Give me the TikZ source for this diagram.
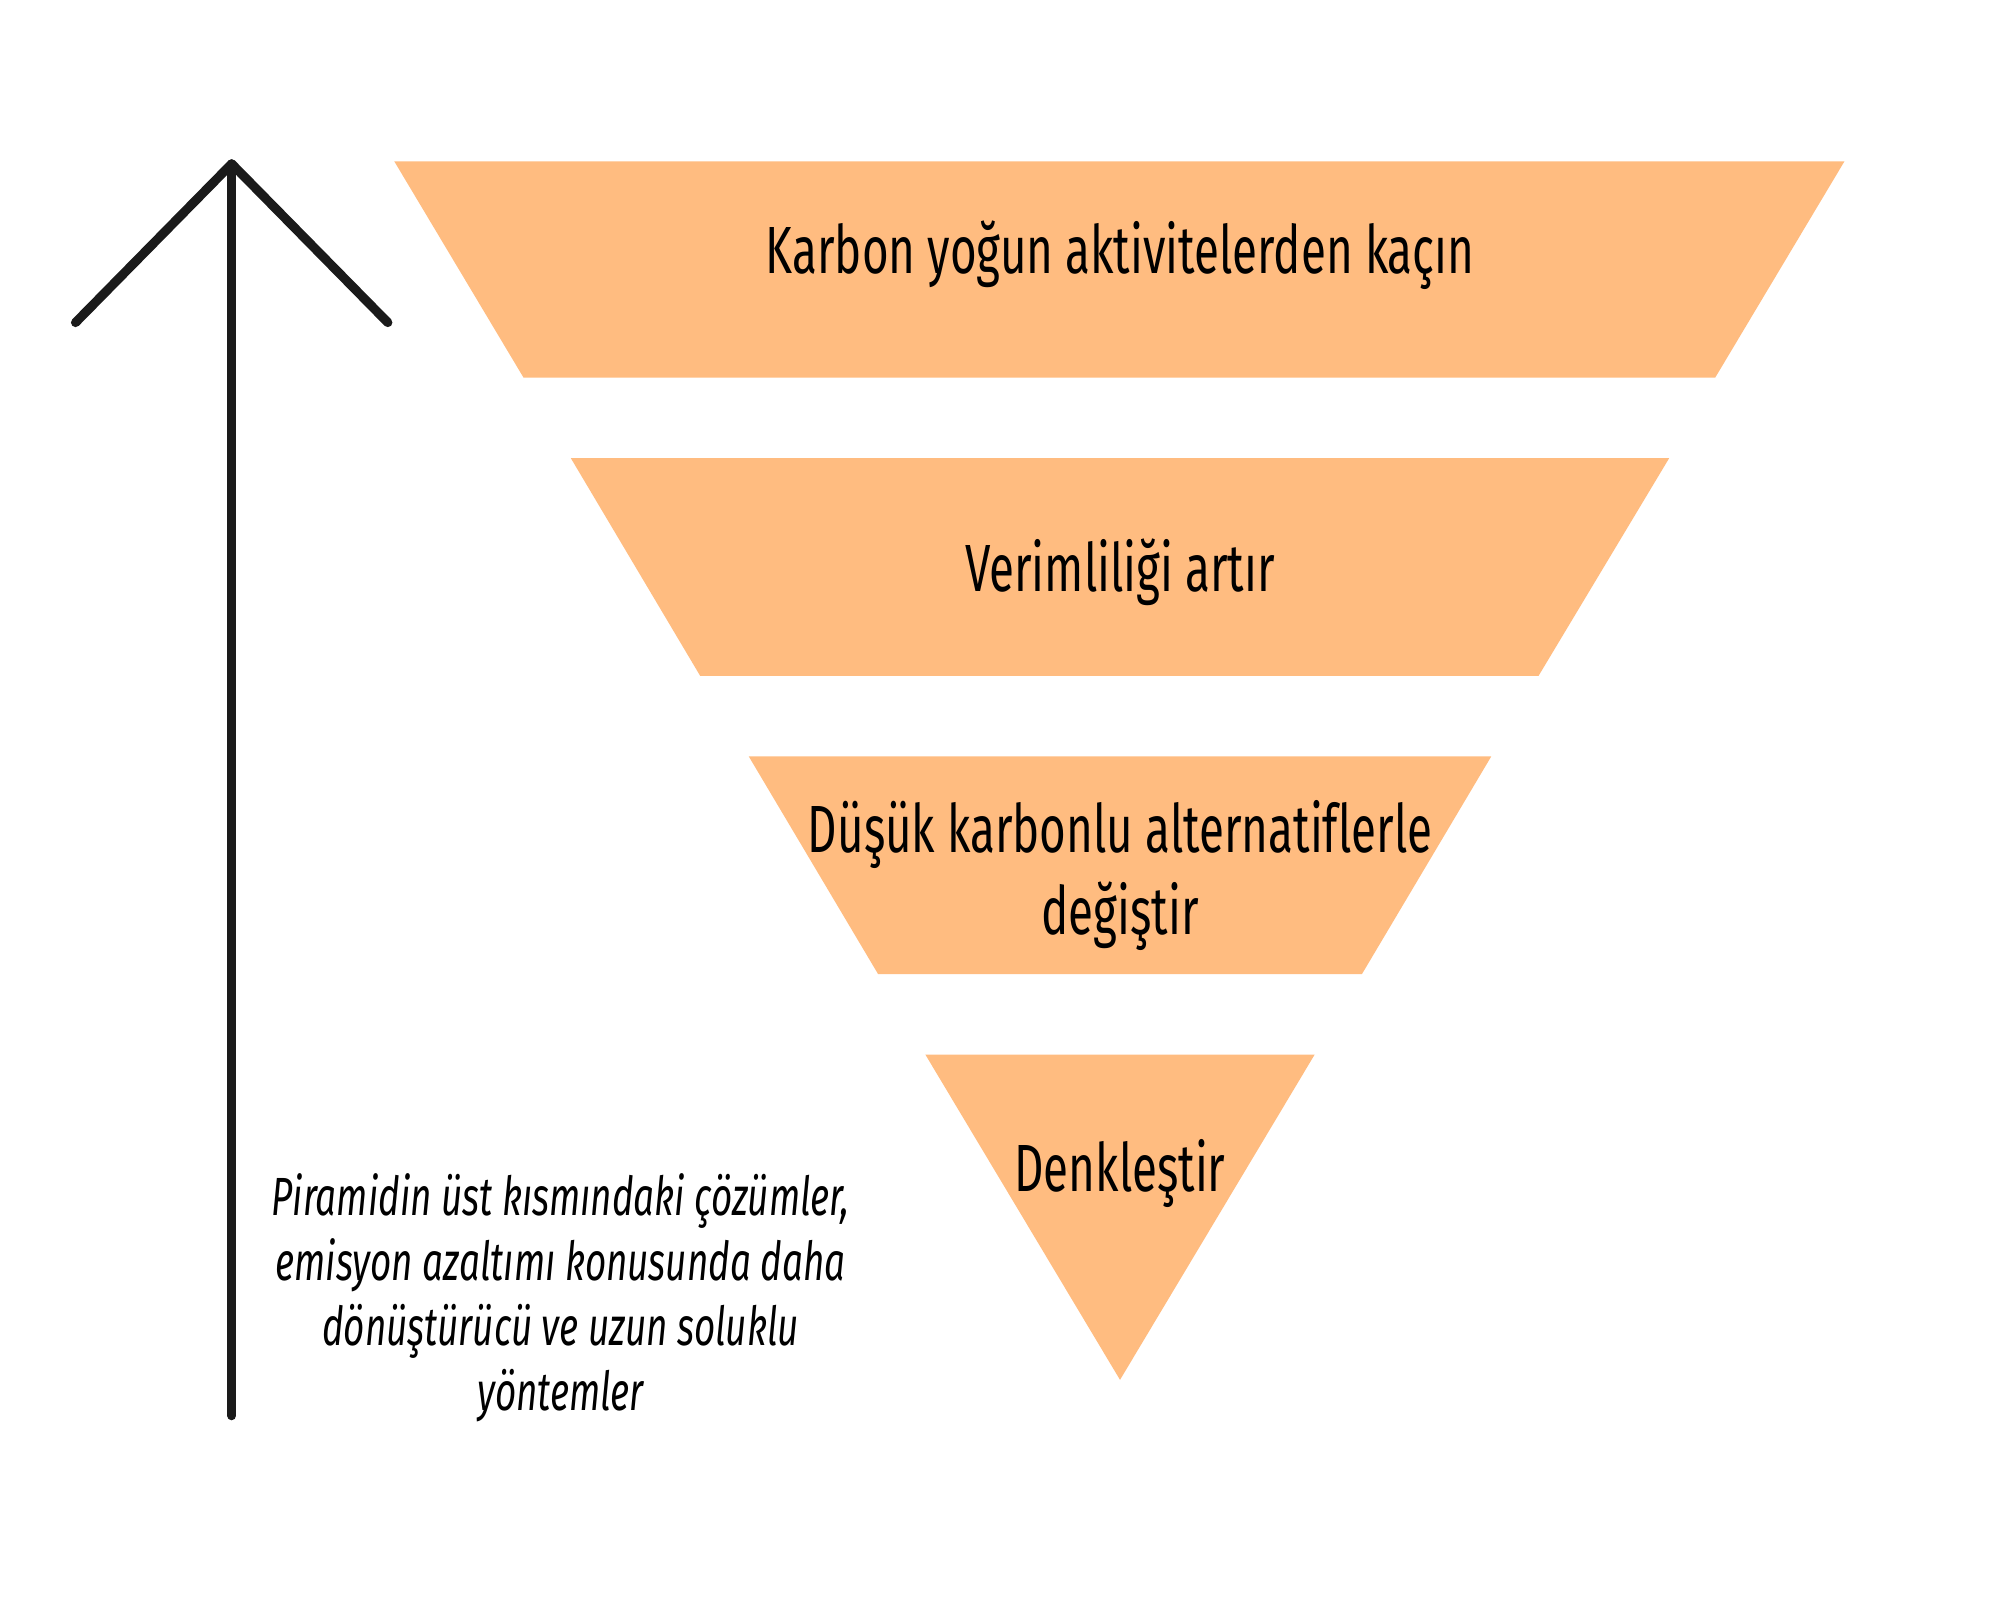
\documentclass[tikz,border=0pt]{standalone}
\usepackage{fontspec}
\setmainfont{Fira Sans}[FakeStretch=0.685, Ligatures=NoCommon]
\definecolor{peach}{HTML}{FFBC80}
\definecolor{ink}{HTML}{1A1A1A}
\tikzset{
  band/.style={fill=peach, draw=none},
  lbl/.style={font=\fontsize{19}{23.5}\selectfont, text=black, align=center, inner sep=0pt},
  capt/.style={font=\fontsize{15.3}{18.5}\selectfont\itshape, text=black, align=center, inner sep=0pt},
  axis/.style={draw=ink, line width=2.6pt, line cap=round, line join=round}
}
\begin{document}
\begin{tikzpicture}[x=0.0128cm,y=-0.0128cm]
\useasboundingbox (0,0) rectangle (1562.5,1250);
\fill[white] (0,0) rectangle (1562.5,1250);
% bands
\fill[band] (308,126) -- (1441,126) -- (1340,295) -- (409,295) -- cycle;
\fill[band] (446,358) -- (1304,358) -- (1202,528) -- (547,528) -- cycle;
\fill[band] (585,591) -- (1165,591) -- (1064,761) -- (686,761) -- cycle;
\fill[band] (723,824) -- (1027,824) -- (875,1078) -- cycle;
% labels
\node[lbl] (t1) at (875,199) {Karbon yoğun aktivitelerden kaçın};
\node[lbl] (t2) at (875,447) {Verimliliği artır};
\node[lbl] (t3) at (875,684) {Düşük karbonlu alternatiflerle\\değiştir};
\node[lbl] (t4) at (875,917) {Denkleştir};
\node[capt] (cap) at (438,1014) {Piramidin üst kısmındaki çözümler,\\emisyon azaltımı konusunda daha\\dönüştürücü ve uzun soluklu\\yöntemler};
% arrow
\coordinate (base) at (181,1106);
\coordinate (tip) at (181,128);
\coordinate (hl) at (59,252);
\coordinate (hr) at (303,252);
\draw[axis] (base) -- (tip);
\draw[axis] (hl) -- (tip) -- (hr);
\end{tikzpicture}
\end{document}
